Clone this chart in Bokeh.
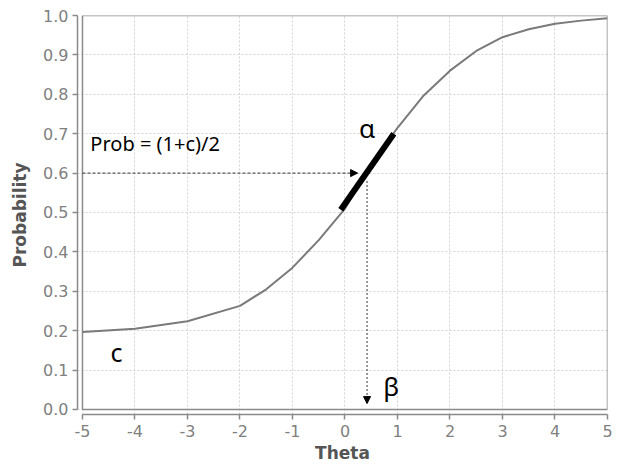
from bokeh.plotting import figure
from bokeh.models import Range1d, FixedTicker, Arrow, NormalHead, PrintfTickFormatter
from bokeh.core.properties import value
from bokeh.embed import file_html
from bokeh.resources import INLINE

# ---- data ----
theta = [-5, -4, -3, -2, -1.5, -1, -0.5, 0, 0.5, 1, 1.5, 2, 2.5, 3, 3.5, 4, 4.5, 5]
prob = [0.197, 0.205, 0.224, 0.263, 0.305, 0.36, 0.43, 0.51, 0.62, 0.715,
        0.797, 0.86, 0.91, 0.945, 0.965, 0.979, 0.987, 0.993]
slope_theta = [-0.08, 0.93]
slope_prob = [0.507, 0.70]
half_prob = 0.6          # (1+c)/2
beta_theta = 0.42
h_arrow_theta = [-5, 0.24]
v_arrow_prob = [0.58, 0.015]
x_ticks = [-5, -4, -3, -2, -1, 0, 1, 2, 3, 4, 5]
y_ticks = [0.0, 0.1, 0.2, 0.3, 0.4, 0.5, 0.6, 0.7, 0.8, 0.9, 1.0]
labels = ["Prob = (1+c)/2", "\u03b1", "\u03b2", "c"]
label_x = [-4.85, 0.42, 0.88, -4.35]
label_y = [0.675, 0.715, 0.06, 0.145]

gx = 0.095   # axis gap in data units (x)
gy = 0.0127  # axis gap in data units (y)

p = figure(width=620, height=466, output_backend="svg", toolbar_location=None,
           x_range=Range1d(-5 - gx, 5), y_range=Range1d(0 - gy, 1.0),
           min_border_left=77, min_border_right=13, min_border_top=15, min_border_bottom=52)
p.outline_line_color = None
p.background_fill_color = "white"
p.border_fill_color = "white"

# grids
for g in (p.xgrid, p.ygrid):
    g.grid_line_color = "#d4d4d4"
    g.grid_line_dash = "2 2"
    g.grid_line_width = 1
p.xgrid.ticker = FixedTicker(ticks=x_ticks)
p.ygrid.ticker = FixedTicker(ticks=y_ticks)

# axes
p.xaxis.ticker = FixedTicker(ticks=x_ticks)
p.yaxis.ticker = FixedTicker(ticks=y_ticks)
p.xaxis.formatter = PrintfTickFormatter(format="%d")
p.yaxis.formatter = PrintfTickFormatter(format="%.1f")
p.xaxis.bounds = (-5, 5)
p.yaxis.bounds = (0, 1)
for ax in (p.xaxis, p.yaxis):
    ax.axis_line_color = "#8a8a8a"
    ax.axis_line_width = 1.5
    ax.major_tick_line_color = "#8a8a8a"
    ax.major_tick_line_width = 1.5
    ax.major_tick_in = 0
    ax.major_tick_out = 5
    ax.minor_tick_line_color = None
    ax.major_label_text_font = "DejaVu Sans"
    ax.major_label_text_font_size = "16px"
    ax.major_label_text_color = "#808080"
    ax.axis_label_text_font = "DejaVu Sans"
    ax.axis_label_text_font_style = "bold"
    ax.axis_label_text_font_size = "17px"
    ax.axis_label_text_color = "#555555"
p.xaxis.axis_label = "Theta"
p.yaxis.axis_label = "Probability"
p.xaxis.major_label_standoff = 5
p.xaxis.axis_label_standoff = 3
p.yaxis.major_label_standoff = 4
p.yaxis.axis_label_standoff = 10

# plot box
p.quad(left=[-5], right=[5], bottom=[0], top=[1], fill_color=None,
       line_color="#8a8a8a", line_width=1.5)

# curve
p.line(theta, prob, line_color="#7a7a7a", line_width=2)

# dashed guide arrows
p.add_layout(Arrow(x_start=h_arrow_theta[0], y_start=half_prob,
                   x_end=h_arrow_theta[1], y_end=half_prob,
                   line_color="#333333", line_width=1, line_dash="3 2",
                   end=NormalHead(size=7, fill_color="black", line_color="black")))
p.add_layout(Arrow(x_start=beta_theta, y_start=v_arrow_prob[0],
                   x_end=beta_theta, y_end=v_arrow_prob[1],
                   line_color="#333333", line_width=1, line_dash="2 2",
                   end=NormalHead(size=7, fill_color="black", line_color="black")))

# slope segment
p.line(slope_theta, slope_prob, line_color="black", line_width=6)

# labels
p.text(x=label_x[:1], y=label_y[:1], text=labels[:1], text_font=value("Noto Sans"),
       text_font_size="20px", text_color="black", text_align="left", text_baseline="middle")
p.text(x=label_x[1:3], y=label_y[1:3], text=labels[1:3], text_font=value("Noto Sans"),
       text_font_size="26px", text_color="black", text_align="center", text_baseline="middle")
p.text(x=label_x[3:], y=label_y[3:], text=labels[3:], text_font=value("Noto Sans"),
       text_font_size="25px", text_color="black", text_align="center", text_baseline="middle")

open("out.html", "w").write(file_html(p, INLINE))
